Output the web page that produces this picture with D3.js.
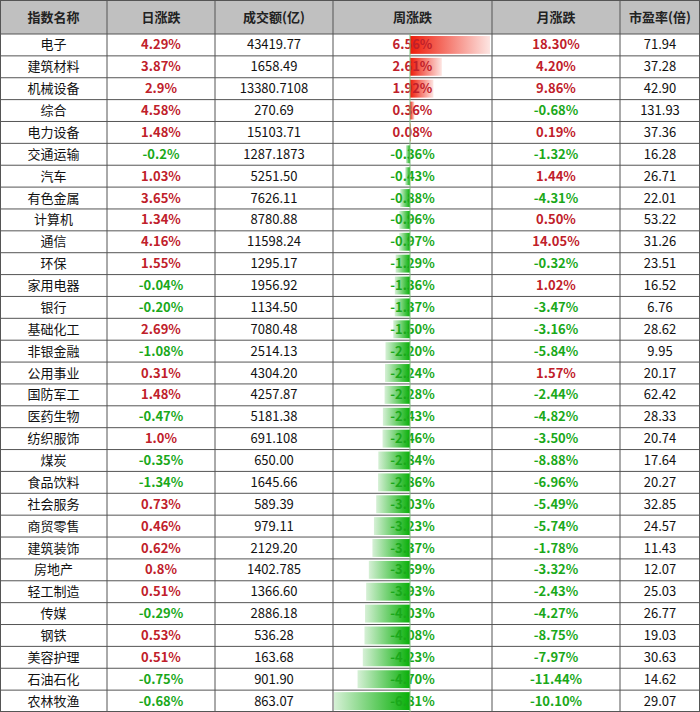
<!DOCTYPE html>
<html><head><meta charset="utf-8">
<script src="https://cdn.jsdelivr.net/npm/d3@7"></script>
<style>body{margin:0;background:#fff}</style>
</head><body><div id="chart"></div>
<script>
var headers = ["指数名称", "日涨跌", "成交额(亿)", "周涨跌", "月涨跌", "市盈率(倍)"];
var names = ["电子","建筑材料","机械设备","综合","电力设备","交通运输","汽车","有色金属","计算机","通信","环保","家用电器","银行","基础化工","非银金融","公用事业","国防军工","医药生物","纺织服饰","煤炭","食品饮料","社会服务","商贸零售","建筑装饰","房地产","轻工制造","传媒","钢铁","美容护理","石油石化","农林牧渔"];
var daily = ["4.29%","3.87%","2.9%","4.58%","1.48%","-0.2%","1.03%","3.65%","1.34%","4.16%","1.55%","-0.04%","-0.20%","2.69%","-1.08%","0.31%","1.48%","-0.47%","1.0%","-0.35%","-1.34%","0.73%","0.46%","0.62%","0.8%","0.51%","-0.29%","0.53%","0.51%","-0.75%","-0.68%"];
var turnover = ["43419.77","1658.49","13380.7108","270.69","15103.71","1287.1873","5251.50","7626.11","8780.88","11598.24","1295.17","1956.92","1134.50","7080.48","2514.13","4304.20","4257.87","5181.38","691.108","650.00","1645.66","589.39","979.11","2129.20","1402.785","1366.60","2886.18","536.28","163.68","901.90","863.07"];
var weekly = [6.56,2.61,1.92,0.36,0.08,-0.36,-0.43,-0.88,-0.96,-0.97,-1.29,-1.36,-1.37,-1.50,-2.20,-2.24,-2.28,-2.43,-2.46,-2.84,-2.86,-3.03,-3.23,-3.37,-3.69,-3.93,-4.03,-4.08,-4.23,-4.70,-6.81];
var monthly = ["18.30%","4.20%","9.86%","-0.68%","0.19%","-1.32%","1.44%","-4.31%","0.50%","14.05%","-0.32%","1.02%","-3.47%","-3.16%","-5.84%","1.57%","-2.44%","-4.82%","-3.50%","-8.88%","-6.96%","-5.49%","-5.74%","-1.78%","-3.32%","-2.43%","-4.27%","-8.75%","-7.97%","-11.44%","-10.10%"];
var pe = ["71.94","37.28","42.90","131.93","37.36","16.28","26.71","22.01","53.22","31.26","23.51","16.52","6.76","28.62","9.95","20.17","62.42","28.33","20.74","17.64","20.27","32.85","24.57","11.43","12.07","25.03","26.77","19.03","30.63","14.62","29.07"];

var W = 700, H = 712, headH = 34;
var colX = [0, 107, 215, 333, 492, 620, 700];
var RED = "#c0202a", GREEN = "#1aa81a";
var rowH = (H - headH) / names.length;
var y = function (i) { return headH + i * rowH; };

var svg = d3.select("#chart").append("svg").attr("width", W).attr("height", H)
    .style("font-family", "'Noto Sans CJK SC', 'Noto Sans', sans-serif");

var defs = svg.append("defs");
var gr = defs.append("linearGradient").attr("id", "gRed");
gr.append("stop").attr("offset", "0%").attr("stop-color", "#ee1c0a");
gr.append("stop").attr("offset", "100%").attr("stop-color", "#fde5e2");
var gg = defs.append("linearGradient").attr("id", "gGreen");
gg.append("stop").attr("offset", "0%").attr("stop-color", "#d6f0d6");
gg.append("stop").attr("offset", "100%").attr("stop-color", "#08b008");

svg.append("rect").attr("width", W).attr("height", headH).attr("fill", "#c0c0c0");

var xBar = d3.scaleLinear().domain([d3.min(weekly), 0, d3.max(weekly)]).range([334, 410, 490]);

svg.append("g").selectAll("rect").data(weekly).join("rect")
    .attr("x", function (d) { return Math.min(xBar(d), xBar(0)); })
    .attr("y", function (d, i) { return y(i) + 2; })
    .attr("width", function (d) { return Math.abs(xBar(d) - xBar(0)); })
    .attr("height", rowH - 4)
    .attr("fill", function (d) { return d >= 0 ? "url(#gRed)" : "url(#gGreen)"; });

// grid
var grid = svg.append("g").attr("stroke", "#555").attr("stroke-width", 1);
d3.range(names.length + 1).forEach(function (i) {
    grid.append("line").attr("x1", 0).attr("x2", W).attr("y1", y(i)).attr("y2", y(i));
});
colX.forEach(function (x) {
    x = Math.min(Math.max(x, 0.5), W - 0.5);
    grid.append("line").attr("x1", x).attr("x2", x).attr("y1", 0).attr("y2", H);
});
grid.append("line").attr("x1", 0).attr("x2", W).attr("y1", 0.5).attr("y2", 0.5);
grid.append("line").attr("x1", 0).attr("x2", W).attr("y1", H - 0.5).attr("y2", H - 0.5);

var cx = function (c) { return (colX[c] + colX[c + 1]) / 2; };

svg.append("g").selectAll("text").data(headers).join("text")
    .attr("x", function (d, i) { return cx(i); }).attr("y", headH / 2)
    .attr("dy", "0.35em").attr("text-anchor", "middle")
    .attr("font-size", 13).attr("font-weight", "bold").attr("fill", "#222")
    .text(function (d) { return d; });

var pctColor = function (s) { return String(s).charAt(0) === "-" ? GREEN : RED; };
var cols = [
    {v: names, bold: false, color: function () { return "#111"; }},
    {v: daily, bold: true, color: pctColor},
    {v: turnover, bold: false, color: function () { return "#111"; }},
    {v: weekly.map(function (d) { return d.toFixed(2) + "%"; }), bold: true, color: pctColor},
    {v: monthly, bold: true, color: pctColor},
    {v: pe, bold: false, color: function () { return "#111"; }}
];
cols.forEach(function (col, c) {
    svg.append("g").selectAll("text").data(col.v).join("text")
        .attr("x", cx(c)).attr("y", function (d, i) { return y(i) + rowH / 2; })
        .attr("dy", "0.35em").attr("text-anchor", "middle")
        .attr("font-size", 13).attr("font-weight", col.bold ? "bold" : "normal")
        .attr("fill", col.color)
        .text(function (d) { return d; });
});

svg.append("line").attr("x1", xBar(0)).attr("x2", xBar(0)).attr("y1", headH).attr("y2", H)
    .attr("stroke", "#7fbf7f").attr("stroke-width", 1);
</script></body></html>
